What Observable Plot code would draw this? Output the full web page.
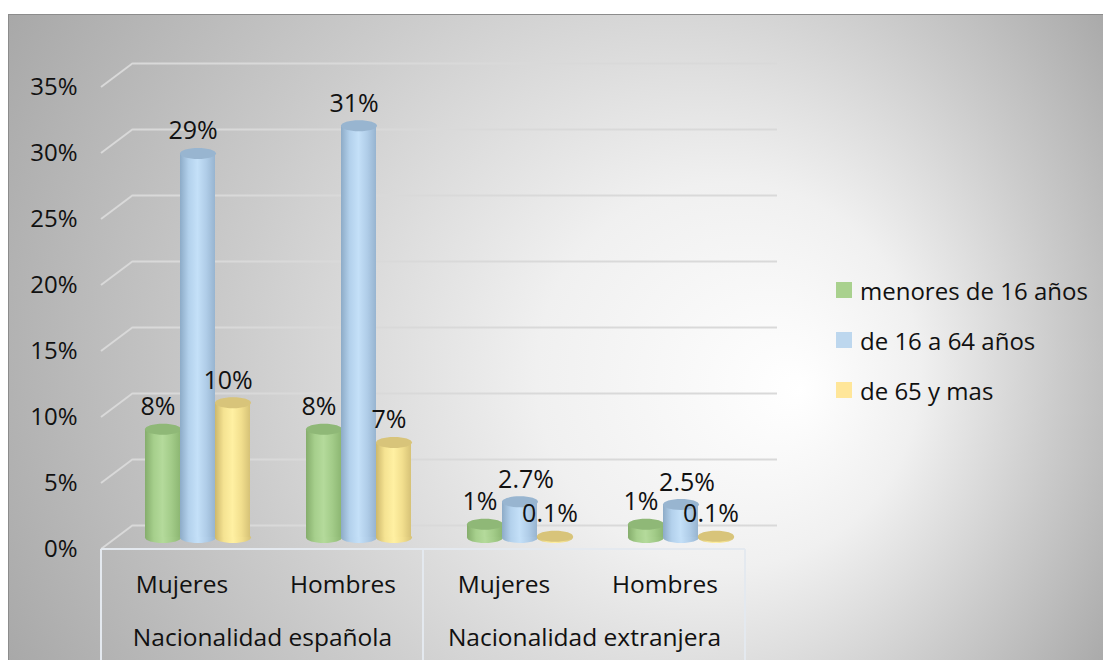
<!DOCTYPE html>
<html>
<head>
<meta charset="utf-8">
<script src="https://cdn.jsdelivr.net/npm/d3@7"></script>
<script src="https://cdn.jsdelivr.net/npm/@observablehq/plot@0.6"></script>
<style>
  body { margin: 0; background: #fff; font-family: "Open Sans", Lato, sans-serif; }
  #wrap { position: relative; width: 1103px; height: 660px; overflow: hidden; }
  #wrap svg { position: absolute; left: 0; top: 0; }
  #legend { position: absolute; left: 836px; top: 265px; font-size: 24px; color: #111; }
  #legend .item { display: flex; align-items: center; height: 50px; white-space: nowrap; }
  #legend .sw { width: 16px; height: 16px; margin-right: 8px; flex: none; }
</style>
</head>
<body>
<div id="wrap"><div id="legend"></div></div>
<script>
// ---- data ----
const nationalities = ["Nacionalidad española", "Nacionalidad extranjera"];
const sexes = ["Mujeres", "Hombres"];
const seriesNames = ["menores de 16 años", "de 16 a 64 años", "de 65 y mas"];
const menores = [0.082, 0.082, 0.010, 0.010];
const de16a64 = [0.291, 0.312, 0.027, 0.025];
const de65 = [0.102, 0.072, 0.001, 0.001];
const menoresLabels = ["8%", "8%", "1%", "1%"];
const de16a64Labels = ["29%", "31%", "2.7%", "2.5%"];
const de65Labels = ["10%", "7%", "0.1%", "0.1%"];
const yTicks = [0, 0.05, 0.10, 0.15, 0.20, 0.25, 0.30, 0.35];

// ---- styles ----
const bodyFills = ["url(#cyl0)", "url(#cyl1)", "url(#cyl2)"];
const topFills = ["#8fb877", "#98b5d0", "#d8c47a"];
const legendColors = ["#a9d18e", "#bdd7ee", "#ffe699"];
const gradStops = [
  ["#85ad6c", "#a6cf8c", "#b4da9b", "#a3cc89", "#8db773"],
  ["#8dabc7", "#b3d1ec", "#c4e0f8", "#b0cde8", "#97b4d0"],
  ["#cdb86c", "#f5e392", "#fff0a2", "#f2df8e", "#d6c277"]
];
const FONT = "'Open Sans', Lato, sans-serif";

// ---- tables ----
const categories = nationalities.flatMap(n => sexes.map(s => ({key: n + "|" + s, nat: n, sex: s})));
const seriesValues = [menores, de16a64, de65];
const seriesLabels = [menoresLabels, de16a64Labels, de65Labels];
const rows = seriesNames.flatMap((s, i) => categories.map((c, j) => ({
  cat: c.key, series: s, si: i, value: seriesValues[i][j], label: seriesLabels[i][j]
})));
const groupRows = nationalities.map(n => ({nat: n, key: categories.find(c => c.nat === n).key}));
// labels of short middle cylinders are nudged right (as the original does to avoid collisions)
const nudged = r => r.si === 1 && r.value < 0.05;

// ellipse symbol for cylinder caps
const K = 0.5523;
const ellipse = (rx, ry) => ({
  draw(ctx) {
    ctx.moveTo(rx, 0);
    ctx.bezierCurveTo(rx, ry * K, rx * K, ry, 0, ry);
    ctx.bezierCurveTo(-rx * K, ry, -rx, ry * K, -rx, 0);
    ctx.bezierCurveTo(-rx, -ry * K, -rx * K, -ry, 0, -ry);
    ctx.bezierCurveTo(rx * K, -ry, rx, -ry * K, rx, 0);
    ctx.closePath();
  }
});
const cap = ellipse(18, 5.5);
const DX = 16, DY = -12; // bars at mid depth

const cylMarks = seriesNames.flatMap((s, i) => {
  const d = rows.filter(r => r.si === i);
  return [
    Plot.dot(d, {fx: "cat", x: "series", y: () => 0, symbol: cap, fill: bodyFills[i], stroke: "none", dx: DX, dy: DY}),
    Plot.barY(d, {fx: "cat", x: "series", y1: () => 0, y2: "value", fill: bodyFills[i], dx: DX, dy: DY}),
    Plot.dot(d, {fx: "cat", x: "series", y: "value", symbol: cap, fill: topFills[i], stroke: "none", dx: DX, dy: DY})
  ];
});

const chart = Plot.plot({
  width: 1103,
  height: 660,
  marginLeft: 100,
  marginRight: 357,
  marginTop: 87,
  marginBottom: 111,
  style: {fontFamily: FONT, fontSize: "24px", color: "#111", background: "transparent", overflow: "visible"},
  fx: {domain: categories.map(c => c.key), padding: 0, axis: null},
  x: {domain: seriesNames, paddingInner: 0, paddingOuter: 0.743, axis: null},
  y: {domain: [0, 0.35], ticks: yTicks, tickFormat: d => Math.round(d * 100) + "%", tickSize: 0, tickPadding: 24, label: null},
  marks: [
    Plot.ruleY(yTicks, {dx: 32, dy: -24, stroke: "#d9d9d9", strokeWidth: 2}),
    ...cylMarks,
    Plot.text(rows.filter(r => !nudged(r)), {fx: "cat", x: "series", y: "value", text: "label", dx: DX - 5, dy: DY - 14, lineAnchor: "bottom", fontSize: 25, fill: "#111"}),
    Plot.text(rows.filter(nudged), {fx: "cat", x: "series", y: "value", text: "label", dx: DX + 6, dy: DY - 14, lineAnchor: "bottom", fontSize: 25, fill: "#111"}),
    Plot.text(categories, {fx: "key", text: "sex", frameAnchor: "bottom", dy: 43, fontSize: 24.5, fill: "#111"}),
    Plot.text(groupRows, {fx: "key", text: "nat", frameAnchor: "bottom-right", textAnchor: "middle", dy: 96, fontSize: 24.5, fill: "#111"})
  ]
});

// ---- decorations using the plot's scales ----
const svg = d3.select(chart);
const yS = chart.scale("y");
const fxS = chart.scale("fx");
const keys = categories.map(c => c.key);
const left = fxS.apply(keys[0]);
const right = fxS.apply(keys[keys.length - 1]) + fxS.bandwidth;
const y0 = yS.apply(0);

const deco = svg.insert("g", ":first-child");
yTicks.forEach(v => {
  deco.append("line").attr("x1", left).attr("y1", yS.apply(v)).attr("x2", left + 32).attr("y2", yS.apply(v) - 24)
    .attr("stroke", "#d9d9d9").attr("stroke-width", 2);
});
deco.append("line").attr("x1", left).attr("x2", right).attr("y1", y0).attr("y2", y0)
  .attr("stroke", "#e4e9ef").attr("stroke-width", 2);
const dividers = [left, ...nationalities.map(n => {
  const ks = categories.filter(c => c.nat === n).map(c => c.key);
  return fxS.apply(ks[ks.length - 1]) + fxS.bandwidth;
})];
dividers.forEach(x => {
  deco.append("line").attr("x1", x).attr("x2", x).attr("y1", y0).attr("y2", 660)
    .attr("stroke", "#e4e9ef").attr("stroke-width", 2);
});

svg.insert("rect", ":first-child").attr("x", 8.5).attr("y", 14.5).attr("width", 1200).attr("height", 800)
  .attr("fill", "url(#bg)").attr("stroke", "#8c8c8c").attr("stroke-width", 1);

const defs = svg.insert("defs", ":first-child");
const bg = defs.append("radialGradient").attr("id", "bg")
  .attr("gradientUnits", "userSpaceOnUse")
  .attr("cx", 560).attr("cy", 340).attr("r", 640).attr("fx", 800).attr("fy", 390);
[[0, "#ffffff"], [0.3, "#f0f0f0"], [0.65, "#cbcbcb"], [1, "#a8a8a8"]].forEach(([o, c]) =>
  bg.append("stop").attr("offset", o).attr("stop-color", c));
gradStops.forEach((stops, i) => {
  const g = defs.append("linearGradient").attr("id", "cyl" + i).attr("x1", 0).attr("x2", 1).attr("y1", 0).attr("y2", 0);
  stops.forEach((c, k) => g.append("stop").attr("offset", k / (stops.length - 1)).attr("stop-color", c));
});

document.getElementById("wrap").prepend(chart);

// ---- legend ----
const legend = d3.select("#legend");
seriesNames.forEach((s, i) => {
  const it = legend.append("div").attr("class", "item");
  it.append("div").attr("class", "sw").style("background", legendColors[i]);
  it.append("span").text(s);
});
</script>
</body>
</html>
